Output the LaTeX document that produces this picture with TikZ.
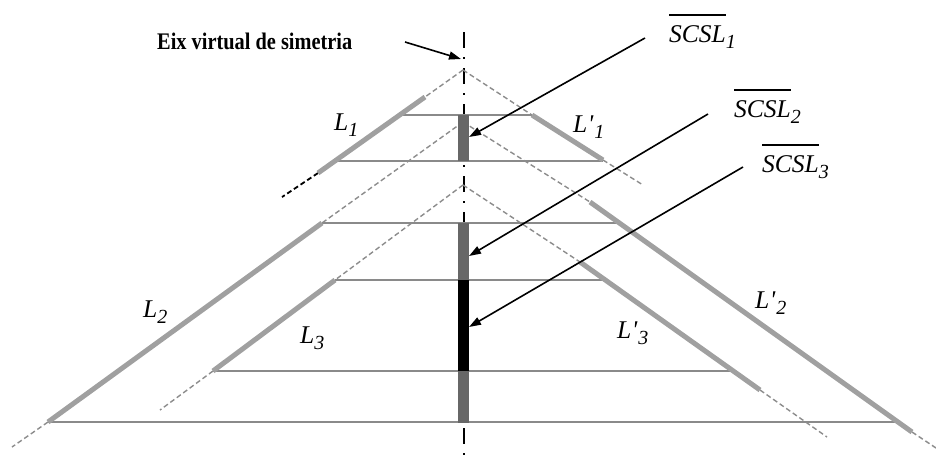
\documentclass[tikz,border=0pt]{standalone}
\usepackage{fontspec}
\setmainfont{Liberation Serif}
\newfontfamily\rawserif{Liberation Serif}[Ligatures=TeXOff]
\usetikzlibrary{arrows.meta}
\definecolor{thickg}{HTML}{A0A0A0}
\definecolor{hlg}{HTML}{8A8A8A}
\definecolor{dashg}{HTML}{8C8C8C}
\definecolor{barg}{HTML}{676767}
\newcommand{\Lsub}[2]{#1\raisebox{-6pt}{\fontsize{20}{20}\selectfont #2}}
\newcommand{\Lprime}{L\kern0.5pt{\rawserif\itshape '}\kern1pt}
\newcommand{\ovlt}[1]{\setbox0\hbox{#1}\rlap{\raisebox{26.5pt}{\rule{\wd0}{1.4pt}}}\box0}
\begin{document}
\begin{tikzpicture}[x=1pt,y=-1pt,
  thk/.style={line width=5pt,color=thickg},
  hl/.style={line width=2pt,color=hlg},
  dsh/.style={line width=1.4pt,color=dashg,dash pattern=on 5pt off 3pt},
  bdsh/.style={line width=1.8pt,black,dash pattern=on 5pt off 3pt},
  arr/.style={line width=1.6pt,-{Triangle[length=12pt,width=8pt]}},
  lab/.style={anchor=base west,inner sep=0pt,font=\fontsize{25.5}{25.5}\selectfont\itshape}
]
\useasboundingbox (0,0) rectangle (936,459);

% symmetry axis
\draw[line width=2pt,dash pattern=on 16pt off 9pt on 2pt off 9pt] (463.5,32) -- (463.5,459);

% ---- triangle 1
\coordinate (a1) at (463,70);
\coordinate (l1t) at (425,97);
\coordinate (l1b) at (318,173);
\coordinate (l1e) at (282,197);
\coordinate (r1t) at (532,115);
\coordinate (r1b) at (603,160);
\coordinate (r1e) at (643,185);
\draw[dsh] (a1) -- (l1t);
\draw[bdsh] (l1b) -- (l1e);
\draw[dsh] (a1) -- (r1t);
\draw[dsh] (r1b) -- (r1e);
\draw[hl] (401,115) -- (r1t);
\draw[hl] (337,161) -- (603,161);
\draw[thk] (l1t) -- (l1b);
\draw[thk] (r1t) -- (r1b);

% ---- triangle 2
\coordinate (a2) at (463,122);
\coordinate (l2t) at (322,223);
\coordinate (l2b) at (48,422);
\coordinate (l2e) at (12,447);
\coordinate (r2t) at (590,202);
\coordinate (r2b) at (912,432);
\coordinate (r2e) at (936,448);
\draw[dsh] (a2) -- (l2t);
\draw[dsh] (l2b) -- (l2e);
\draw[dsh] (a2) -- (r2t);
\draw[dsh] (r2b) -- (r2e);
\draw[hl] (l2t) -- (621,223);
\draw[hl] (48,422) -- (897,422);

% ---- triangle 3
\coordinate (a3) at (463,185);
\coordinate (l3t) at (335,280);
\coordinate (l3b) at (213,371);
\coordinate (l3e) at (160,410);
\coordinate (r3t) at (580,262);
\coordinate (r3b) at (760,390);
\coordinate (r3e) at (827,437);
\draw[dsh] (a3) -- (l3t);
\draw[dsh] (l3b) -- (l3e);
\draw[dsh] (a3) -- (r3t);
\draw[dsh] (r3b) -- (r3e);
\draw[hl] (l3t) -- (607,280);
\draw[hl] (l3b) -- (733,371);

\draw[thk] (l2t) -- (l2b);
\draw[thk] (r2t) -- (r2b);
\draw[thk] (l3t) -- (l3b);
\draw[thk] (r3t) -- (r3b);

% ---- bars on the axis
\fill[barg] (458,115) rectangle (469,161);
\fill[barg] (458,223) rectangle (469,280);
\fill[black] (458,280) rectangle (469,371);
\fill[barg] (458,371) rectangle (469,423);

% ---- labels
\node[lab] (L1) at (334,130) {\Lsub{L}{1}};
\node[lab] (Lp1) at (573,132) {\Lsub{\Lprime}{1}};
\node[lab] (L2) at (143,317) {\Lsub{L}{2}};
\node[lab] (Lp2) at (755,308) {\Lsub{\Lprime}{2}};
\node[lab] (L3) at (300,343) {\Lsub{L}{3}};
\node[lab] (Lp3) at (617,338) {\Lsub{\Lprime}{3}};

\node[lab] (S1) at (669,42) {\ovlt{SCSL}\raisebox{-6pt}{\fontsize{20}{20}\selectfont 1}};
\node[lab] (S2) at (734,117) {\ovlt{SCSL}\raisebox{-6pt}{\fontsize{20}{20}\selectfont 2}};
\node[lab] (S3) at (762,172) {\ovlt{SCSL}\raisebox{-6pt}{\fontsize{20}{20}\selectfont 3}};

\node[anchor=base west,inner sep=0pt] (eix) at (157,49)
  {\resizebox{195pt}{16.5pt}{\bfseries Eix virtual de simetria}};

% ---- arrows
\coordinate (eixs) at (405,42);
\coordinate (eixt) at (461,59);
\coordinate (s1s) at (645,38);
\coordinate (s1t) at (469,137);
\coordinate (s2s) at (708,114);
\coordinate (s2t) at (469,256);
\coordinate (s3s) at (743,167);
\coordinate (s3t) at (469,327);
\draw[arr] (eixs) -- (eixt);
\draw[arr] (s1s) -- (s1t);
\draw[arr] (s2s) -- (s2t);
\draw[arr] (s3s) -- (s3t);
\end{tikzpicture}
\end{document}
